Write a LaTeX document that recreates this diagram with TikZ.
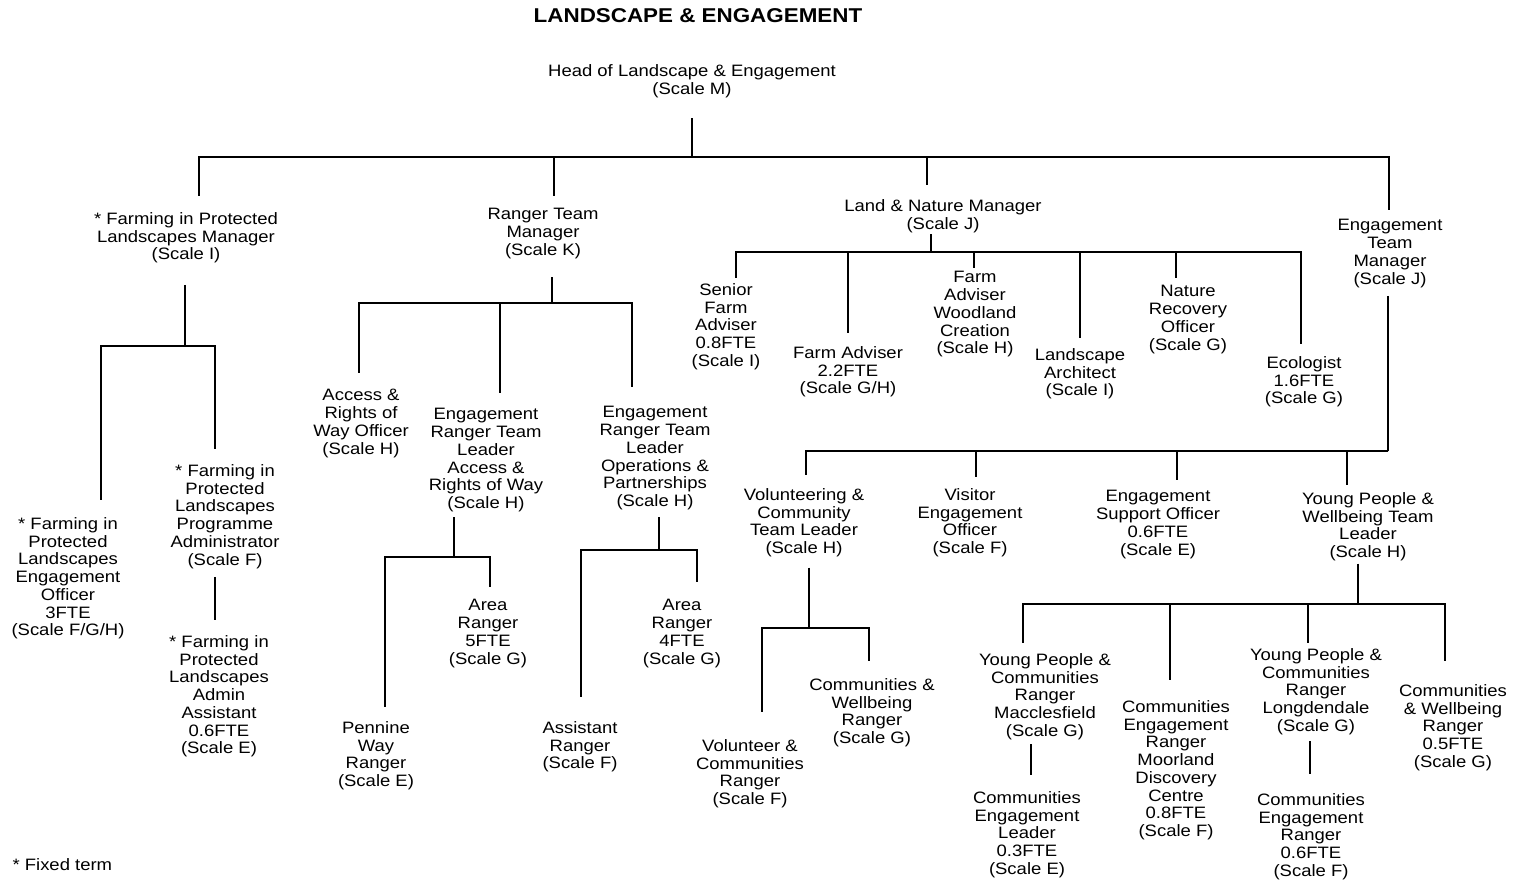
\documentclass[tikz,border=0pt]{standalone}
\usepackage{fontspec}
\setmainfont{Liberation Sans}[FakeStretch=1.12]
\begin{document}
\begin{tikzpicture}[x=1pt,y=-1pt,line width=1.1pt,
  post/.style={align=center,inner sep=0pt,anchor=north}]
\useasboundingbox (0,0) rectangle (1521,879);
\fontsize{16.5}{17.7}\selectfont

\node (title) at (698,16) {\fontsize{20}{22}\selectfont\bfseries LANDSCAPE \& ENGAGEMENT};
\node[post] (head) at (692,64) {Head of Landscape \& Engagement\\(Scale M)};

% managers
\node[post] (fiplm) at (186,212) {* Farming in Protected\\Landscapes Manager\\(Scale I)};
\node[post] (rtm) at (543,208) {Ranger Team\\Manager\\(Scale K)};
\node[post] (lnm) at (943,199) {Land \& Nature Manager\\(Scale J)};
\node[post] (etm) at (1390,219) {Engagement\\Team\\Manager\\(Scale J)};

% farming in protected landscapes
\node[post] (fiplo) at (68,517) {* Farming in\\Protected\\Landscapes\\Engagement\\Officer\\3FTE\\(Scale F/G/H)};
\node[post] (fiplp) at (225,464) {* Farming in\\Protected\\Landscapes\\Programme\\Administrator\\(Scale F)};
\node[post] (fipla) at (219,635) {* Farming in\\Protected\\Landscapes\\Admin\\Assistant\\0.6FTE\\(Scale E)};

% rangers
\node[post] (arow) at (361,389) {Access \&\\Rights of\\Way Officer\\(Scale H)};
\node[post] (ertla) at (486,408) {Engagement\\Ranger Team\\Leader\\Access \&\\Rights of Way\\(Scale H)};
\node[post] (ertlo) at (655,406) {Engagement\\Ranger Team\\Leader\\Operations \&\\Partnerships\\(Scale H)};
\node[post] (pwr) at (376,721) {Pennine\\Way\\Ranger\\(Scale E)};
\node[post] (ar5) at (488,599) {Area\\Ranger\\5FTE\\(Scale G)};
\node[post] (asr) at (580,721) {Assistant\\Ranger\\(Scale F)};
\node[post] (ar4) at (682,599) {Area\\Ranger\\4FTE\\(Scale G)};

% land and nature
\node[post] (sfa) at (726,283) {Senior\\Farm\\Adviser\\0.8FTE\\(Scale I)};
\node[post] (fa) at (848,346) {Farm Adviser\\2.2FTE\\(Scale G/H)};
\node[post] (faw) at (975,271) {Farm\\Adviser\\Woodland\\Creation\\(Scale H)};
\node[post] (la) at (1080,348) {Landscape\\Architect\\(Scale I)};
\node[post] (nro) at (1188,285) {Nature\\Recovery\\Officer\\(Scale G)};
\node[post] (eco) at (1304,356) {Ecologist\\1.6FTE\\(Scale G)};

% engagement
\node[post] (vctl) at (804,488) {Volunteering \&\\Community\\Team Leader\\(Scale H)};
\node[post] (veo) at (970,488) {Visitor\\Engagement\\Officer\\(Scale F)};
\node[post] (eso) at (1158,490) {Engagement\\Support Officer\\0.6FTE\\(Scale E)};
\node[post] (ypwtl) at (1368,492) {Young People \&\\Wellbeing Team\\Leader\\(Scale H)};
\node[post] (vcr) at (750,739) {Volunteer \&\\Communities\\Ranger\\(Scale F)};
\node[post] (cwr) at (872,678) {Communities \&\\Wellbeing\\Ranger\\(Scale G)};
\node[post] (ypm) at (1045,653) {Young People \&\\Communities\\Ranger\\Macclesfield\\(Scale G)};
\node[post] (cel) at (1027,791) {Communities\\Engagement\\Leader\\0.3FTE\\(Scale E)};
\node[post] (cerm) at (1176,700) {Communities\\Engagement\\Ranger\\Moorland\\Discovery\\Centre\\0.8FTE\\(Scale F)};
\node[post] (ypl) at (1316,648) {Young People \&\\Communities\\Ranger\\Longdendale\\(Scale G)};
\node[post] (cer) at (1311,793) {Communities\\Engagement\\Ranger\\0.6FTE\\(Scale F)};
\node[post] (cwr5) at (1453,684) {Communities\\\& Wellbeing\\Ranger\\0.5FTE\\(Scale G)};

\node[anchor=west,inner sep=0pt] (fixed) at (12,865) {* Fixed term};

% junctions
\coordinate (j0) at (692,157);
\coordinate (j1) at (185,346);
\coordinate (j2) at (552,303);
\coordinate (j3) at (454,557);
\coordinate (j4) at (659,550);
\coordinate (j5) at (931,252);
\coordinate (j6) at (1388,451);
\coordinate (j7) at (809,628);
\coordinate (j8) at (1358,604);

% head
\draw[shorten <=20pt] (head.south -| j0) -- (j0);
\draw (j0) -| ([xshift=13pt,yshift=16pt]fiplm.north);
\draw (j0) -| ([xshift=11pt,yshift=12pt]rtm.north);
\draw (j0) -| ([xshift=-16pt,yshift=14pt]lnm.north);
\draw (j0) -| ([xshift=-1pt,yshift=9pt]etm.north);

% farming in protected landscapes
\draw[shorten <=21pt] (fiplm.south -| j1) -- (j1);
\draw (j1) -| ([xshift=33pt,yshift=17pt]fiplo.north);
\draw (j1) -| ([xshift=-10pt,yshift=15pt]fiplp.north);
\draw ([xshift=-10pt,yshift=-8pt]fiplp.south) -- ([xshift=-4pt,yshift=15pt]fipla.north);

% rangers
\draw[shorten <=18pt] (rtm.south -| j2) -- (j2);
\draw (j2) -| ([xshift=-2pt,yshift=16pt]arow.north);
\draw (j2) -| ([xshift=14pt,yshift=15pt]ertla.north);
\draw (j2) -| ([xshift=-23pt,yshift=19pt]ertlo.north);
\draw[shorten <=5pt] (ertla.south -| j3) -- (j3);
\draw (j3) -| ([xshift=9pt,yshift=14pt]pwr.north);
\draw (j3) -| ([xshift=2pt,yshift=12pt]ar5.north);
\draw[shorten <=7pt] (ertlo.south -| j4) -- (j4);
\draw (j4) -| ([xshift=1pt,yshift=24pt]asr.north);
\draw (j4) -| ([xshift=15pt,yshift=17pt]ar4.north);

% land and nature
\draw[shorten <=1pt] (lnm.south -| j5) -- (j5);
\draw (j5) -| ([xshift=10pt,yshift=5pt]sfa.north);
\draw (j5) -| ([yshift=13pt]fa.north);
\draw (j5) -| ([xshift=-1pt,yshift=3pt]faw.north);
\draw (j5) -| ([yshift=10pt]la.north);
\draw (j5) -| ([xshift=-12pt,yshift=7pt]nro.north);
\draw (j5) -| ([xshift=-3pt,yshift=12pt]eco.north);

% engagement
\draw[shorten <=8pt] (etm.south -| j6) -- (j6);
\draw (j6) -| ([xshift=2pt,yshift=13pt]vctl.north);
\draw (j6) -| ([xshift=6pt,yshift=11pt]veo.north);
\draw (j6) -| ([xshift=19pt,yshift=10pt]eso.north);
\draw (j6) -| ([xshift=-21pt,yshift=7pt]ypwtl.north);
\draw[shorten <=10pt] (vctl.south -| j7) -- (j7);
\draw (j7) -| ([xshift=12pt,yshift=27pt]vcr.north);
\draw (j7) -| ([xshift=-3pt,yshift=17pt]cwr.north);
\draw[shorten <=2pt] (ypwtl.south -| j8) -- (j8);
\draw (j8) -| ([xshift=-22pt,yshift=10pt]ypm.north);
\draw (j8) -| ([xshift=-6pt,yshift=20pt]cerm.north);
\draw (j8) -| ([xshift=-8pt,yshift=5pt]ypl.north);
\draw (j8) -| ([xshift=-8pt,yshift=23pt]cwr5.north);
\draw ([xshift=-14pt,yshift=-4pt]ypm.south) -- ([xshift=4pt,yshift=16pt]cel.north);
\draw ([xshift=-6pt,yshift=-6pt]ypl.south) -- ([xshift=-1pt,yshift=19pt]cer.north);
\end{tikzpicture}
\end{document}
